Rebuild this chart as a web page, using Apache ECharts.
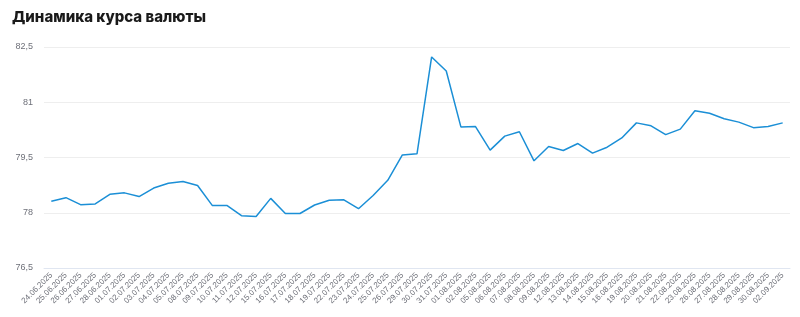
<!DOCTYPE html>
<html><head><meta charset="utf-8">
<script src="https://cdn.jsdelivr.net/npm/echarts@6/dist/echarts.min.js"></script>
<style>html,body{margin:0;padding:0;background:#fff}#c{width:800px;height:317px}</style>
</head><body><div id="c"></div>
<script>
var title = 'Динамика курса валюты';
var dates = ['24.06.2025','25.06.2025','26.06.2025','27.06.2025','28.06.2025','01.07.2025','02.07.2025','03.07.2025','04.07.2025','05.07.2025','08.07.2025','09.07.2025','10.07.2025','11.07.2025','12.07.2025','15.07.2025','16.07.2025','17.07.2025','18.07.2025','19.07.2025','22.07.2025','23.07.2025','24.07.2025','25.07.2025','26.07.2025','29.07.2025','30.07.2025','31.07.2025','01.08.2025','02.08.2025','05.08.2025','06.08.2025','07.08.2025','08.08.2025','09.08.2025','12.08.2025','13.08.2025','14.08.2025','15.08.2025','16.08.2025','19.08.2025','20.08.2025','21.08.2025','22.08.2025','23.08.2025','26.08.2025','27.08.2025','28.08.2025','29.08.2025','30.08.2025','02.09.2025'];
var rates = [78.31,78.41,78.22,78.24,78.50,78.54,78.44,78.67,78.80,78.85,78.74,78.20,78.20,77.92,77.90,78.39,77.98,77.98,78.21,78.34,78.35,78.11,78.47,78.88,79.57,79.60,82.23,81.85,80.33,80.34,79.70,80.08,80.20,79.41,79.80,79.69,79.88,79.62,79.78,80.03,80.44,80.36,80.12,80.27,80.77,80.70,80.55,80.46,80.31,80.34,80.44];
var yMin = 76.5, yMax = 82.5, yStep = 1.5;

var chart = echarts.init(document.getElementById('c'), null, {renderer:'canvas'});
chart.setOption({
  animation: false,
  title: {text: title, left: 7, top: 5, textStyle: {fontFamily: 'Inter', fontWeight: 800, fontSize: 15, color: '#1a1a1a'}},
  grid: {left: 44, right: 10, top: 47, bottom: 49},
  xAxis: {
    type: 'category', data: dates, boundaryGap: true,
    axisLine: {lineStyle: {color: '#e0e6f1'}},
    axisTick: {show: false},
    axisLabel: {rotate: 45, interval: 0, fontSize: 8, color: '#6e7079', fontFamily: 'Liberation Sans', margin: 6}
  },
  yAxis: {
    type: 'value', min: yMin, max: yMax, interval: yStep,
    axisLabel: {fontSize: 9, color: '#6e7079', fontFamily: 'Liberation Sans', margin: 11,
      formatter: function(v){ return String(v).replace('.', ','); }},
    splitLine: {lineStyle: {color: '#eeeeee'}}
  },
  series: [{type: 'line', data: rates, showSymbol: false, lineStyle: {color: '#1b8fd6', width: 1.5}, itemStyle: {color: '#1b8fd6'}}]
});
</script></body></html>
